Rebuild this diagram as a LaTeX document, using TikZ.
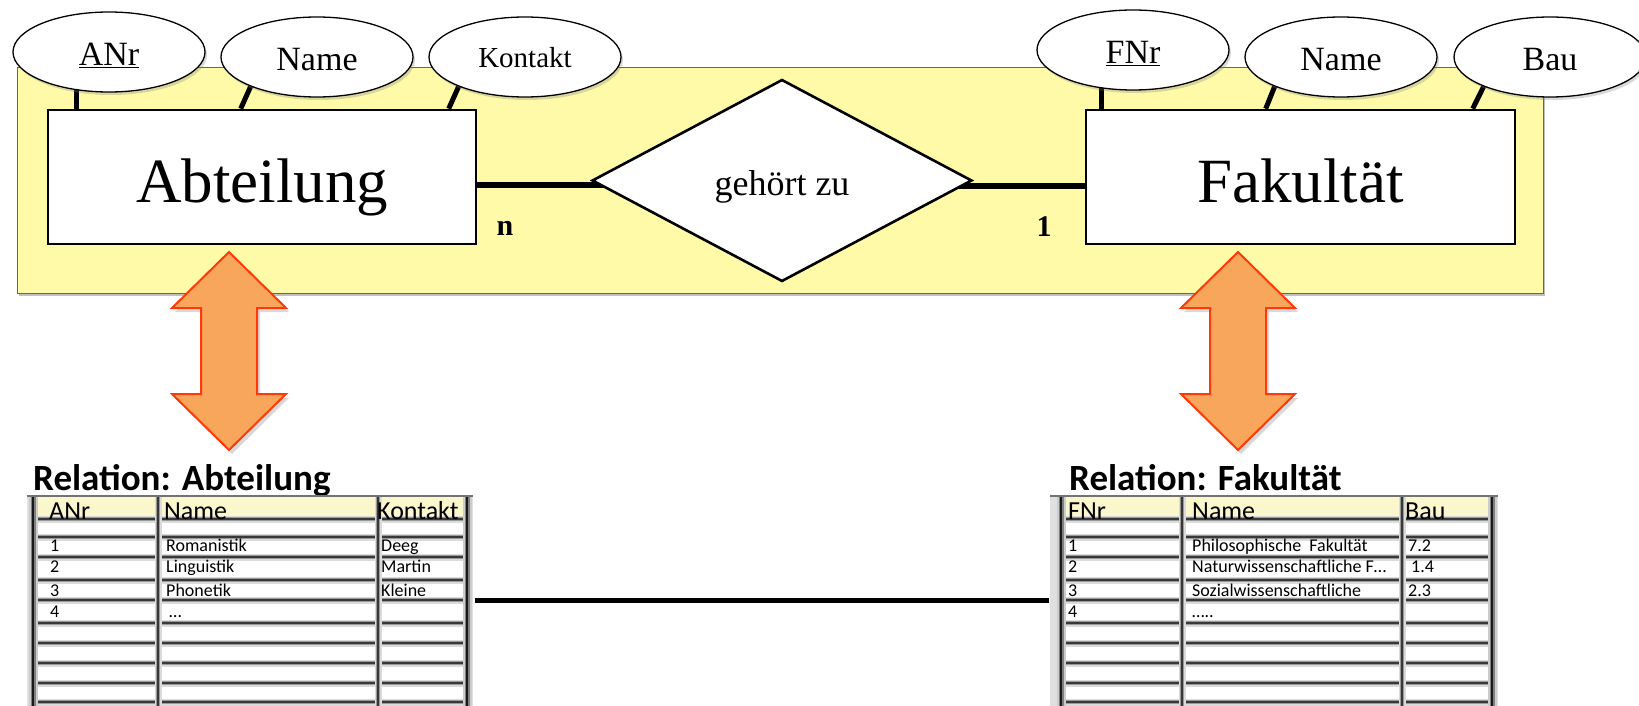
\documentclass[tikz,border=0pt]{standalone}
\usepackage{fontspec}
\setmainfont{Liberation Serif}
\newfontfamily\calfont{Carlito}
\usetikzlibrary{shapes.geometric,shadows}
\pgfdeclarelayer{bg}
\pgfdeclarelayer{mid}
\pgfsetlayers{bg,mid,main}
\definecolor{erYellow}{RGB}{255,250,168}
\definecolor{arrFill}{RGB}{248,166,91}
\definecolor{arrLine}{RGB}{255,58,10}
\definecolor{hdrYellow}{RGB}{250,247,205}
\newcommand{\fsz}[1]{\fontsize{#1}{#1}\selectfont}
\newcommand{\drawgrid}[5]{%
  \fill[black!12] (#1,495) rectangle ({#5+6},706);
  \fill[white] (#2,496) rectangle (#5,706);
  \fill[hdrYellow] (#2,496) rectangle (#5,519);
  \foreach \yy in {519,537,557,580,600,623,643,663,683,702} {
    \draw[hb1] (#2,\yy) -- (#5,\yy);
    \draw[hb2] (#2,\yy) -- (#5,\yy);
    \draw[hb3] (#2,\yy) -- (#5,\yy);
  }
  \foreach \xx in {#3,#4} {
    \draw[hb1] (\xx,496) -- (\xx,706);
    \draw[hb2] (\xx,496) -- (\xx,706);
    \draw[hb3] (\xx,496) -- (\xx,706);
  }
  \foreach \xx in {#2,#5} {
    \draw[vb1] (\xx,496) -- (\xx,706);
    \draw[vb2] (\xx,496) -- (\xx,706);
    \draw[vb3] (\xx,496) -- (\xx,706);
  }
  \draw[black!55,line width=2pt] (#1,495.5) -- ({#5+6},495.5);
}
\begin{document}
\begin{tikzpicture}[x=1pt,y=-1pt,
  entbox/.style={draw,line width=2.6pt,fill=white,minimum width=428pt,minimum height=134pt,inner sep=0pt,text height=50pt,text depth=0pt,font=\fsz{63}},
  attrell/.style={ellipse,draw,line width=1.3pt,fill=white,minimum width=192pt,minimum height=80pt,inner sep=1pt,text height=27pt,text depth=0pt,font=\fsz{34},drop shadow={shadow xshift=2pt,shadow yshift=-3pt,opacity=0.3}},
  relshape/.style={diamond,draw,line width=2.6pt,fill=white,minimum width=380pt,minimum height=202pt,inner sep=0pt,text height=30pt,text depth=0pt,font=\fsz{36}},
  erline/.style={line width=5.5pt},
  attrline/.style={line width=5pt},
  card/.style={font=\bfseries\fsz{30},anchor=base,inner sep=0pt},
  bigarrow/.style={fill=arrFill,draw=arrLine,line width=2pt,line join=miter,drop shadow={shadow xshift=3pt,shadow yshift=-4pt,opacity=0.3}},
  hb1/.style={line width=7pt,black!14},
  hb2/.style={line width=3.6pt,black!40},
  hb3/.style={line width=1.4pt,black!78},
  vb1/.style={line width=9pt,black!20},
  vb2/.style={line width=5pt,black!50},
  vb3/.style={line width=2.8pt,black!90},
  ttl/.style={anchor=base west,inner sep=0pt,font=\calfont\bfseries\fsz{37}},
  hdr/.style={anchor=base west,inner sep=0pt,font=\calfont\fsz{26}},
  cell/.style={anchor=base west,inner sep=0pt,font=\calfont\fsz{18}},
  tabbox/.style={inner sep=0pt,minimum width=448pt,minimum height=211pt}
]
\useasboundingbox (0,0) rectangle (1639,706);

% ER background
\begin{pgfonlayer}{bg}
\node[draw=black!60,line width=1pt,fill=erYellow,minimum width=1526pt,minimum height=225pt,
      drop shadow={shadow xshift=2pt,shadow yshift=-3pt,opacity=0.5}] (erbg) at (780,180.5) {};
\end{pgfonlayer}

% entities and relationship
\node[entbox] (abt) at (262,177) {Abteilung};
\node[entbox,minimum width=429pt] (fak) at (1300.5,177) {Fakultät};
\node[relshape] (rel) at (782,180.5) {gehört zu};

% attributes
\node[attrell] (an1) at (109,52) {\underline{ANr}};
\node[attrell] (an2) at (317,57) {Name};
\node[attrell,font=\fsz{29},text height=22pt] (an3) at (525,57) {Kontakt};
\node[attrell] (fn1) at (1133,50) {\underline{FNr}};
\node[attrell] (fn2) at (1341,57) {Name};
\node[attrell] (fn3) at (1550,57) {Bau};

% cardinalities
\node[card] (cn) at (505,235) {n};
\node[card] (c1) at (1044,236) {1};

\begin{pgfonlayer}{mid}
\draw[erline] ([yshift=-8pt]abt.east) -- ([yshift=-8pt]abt.east -| rel.center);
\draw[erline] ([yshift=-9pt]fak.west) -- ([yshift=-9pt]fak.west -| rel.center);
\draw[attrline] (an1.230) -- (an1.230 |- abt.north);
\draw[attrline] (an2.204) -- ([xshift=194pt]abt.north west);
\draw[attrline] (an3.204) -- ([xshift=402pt]abt.north west);
\draw[attrline] (fn1.231) -- (fn1.231 |- fak.north);
\draw[attrline] (fn2.204) -- ([xshift=181pt]fak.north west);
\draw[attrline] (fn3.204) -- ([xshift=388pt]fak.north west);
\end{pgfonlayer}

% double arrows
\draw[bigarrow] (229,252) -- (286,308) -- (257,308) -- (257,394) -- (286,394) -- (229,450)
  -- (172,394) -- (201,394) -- (201,308) -- (172,308) -- cycle;
\draw[bigarrow] (1238,252) -- (1295,308) -- (1266,308) -- (1266,394) -- (1295,394) -- (1238,450)
  -- (1181,394) -- (1210,394) -- (1210,308) -- (1181,308) -- cycle;

% titles
\node[ttl] (tta) at (33,490) {Relation: Abteilung};
\node[ttl] (ttf) at (1069,490) {Relation: Fakultät};

% tables
\node[tabbox] (tA) at (251,600.5) {};
\node[tabbox] (tF) at (1273,600.5) {};
\drawgrid{27}{33}{158}{378}{467}
\drawgrid{1050}{1061}{1182}{1402}{1492}

\draw[line width=5pt] (tA.east) -- (tF.west);

% Abteilung table text
\node[hdr] (ha1) at (49,519) {ANr};
\node[hdr] (ha2) at (164,519) {Name};
\node[hdr] (ha3) at (377,519) {Kontakt};
\node[cell] (a11) at (50,551) {1};
\node[cell] (a12) at (166,551) {Romanistik};
\node[cell] (a13) at (381,551) {Deeg};
\node[cell] (a21) at (50,572) {2};
\node[cell] (a22) at (166,572) {Linguistik};
\node[cell] (a23) at (381,572) {Martin};
\node[cell] (a31) at (50,596) {3};
\node[cell] (a32) at (166,596) {Phonetik};
\node[cell] (a33) at (381,596) {Kleine};
\node[cell] (a41) at (50,617) {4};
\node[cell] (a42) at (169,617) {…};

% Fakultaet table text
\node[hdr] (hf1) at (1068,519) {FNr};
\node[hdr] (hf2) at (1192,519) {Name};
\node[hdr] (hf3) at (1405,519) {Bau};
\node[cell] (f11) at (1068,551) {1};
\node[cell] (f12) at (1192,551) {Philosophische\ \ Fakultät};
\node[cell] (f13) at (1408,551) {7.2};
\node[cell] (f21) at (1068,572) {2};
\node[cell] (f22) at (1192,572) {Naturwissenschaftliche F…};
\node[cell] (f23) at (1411,572) {1.4};
\node[cell] (f31) at (1068,596) {3};
\node[cell] (f32) at (1192,596) {Sozialwissenschaftliche};
\node[cell] (f33) at (1408,596) {2.3};
\node[cell] (f41) at (1068,617) {4};
\node[cell] (f42) at (1192,617) {…..};
\end{tikzpicture}
\end{document}
